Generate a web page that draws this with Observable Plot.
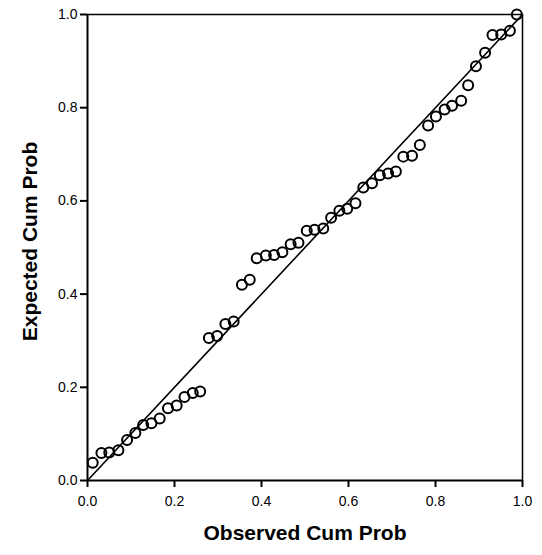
<!DOCTYPE html>
<html><head><meta charset="utf-8">
<script src="https://cdn.jsdelivr.net/npm/d3@7"></script>
<script src="https://cdn.jsdelivr.net/npm/@observablehq/plot@0.6"></script>
<style>
body{margin:0;background:#fff;}
svg{font-family:"Liberation Sans",Arial,sans-serif;}
</style>
</head><body>
<div id="chart"></div>
<script>
const observed = [0.012,0.032,0.050,0.071,0.091,0.110,0.128,0.147,0.166,0.185,0.205,0.223,0.242,0.259,0.279,0.298,0.317,0.336,0.355,0.373,0.389,0.410,0.429,0.448,0.467,0.485,0.504,0.522,0.542,0.560,0.579,0.597,0.616,0.634,0.654,0.672,0.691,0.709,0.726,0.746,0.764,0.783,0.801,0.821,0.838,0.859,0.875,0.893,0.914,0.931,0.951,0.971,0.987];
const expected = [0.038,0.059,0.060,0.065,0.087,0.102,0.119,0.123,0.133,0.155,0.161,0.179,0.188,0.191,0.306,0.310,0.336,0.341,0.420,0.431,0.477,0.483,0.484,0.490,0.507,0.510,0.536,0.538,0.541,0.564,0.579,0.583,0.595,0.629,0.638,0.655,0.659,0.663,0.695,0.697,0.720,0.762,0.781,0.796,0.804,0.815,0.848,0.889,0.918,0.956,0.957,0.965,1.000];
const ticks = [0, 0.2, 0.4, 0.6, 0.8, 1.0];
const refLine = [[0,0],[1,1]];

const points = observed.map((o,i)=>({o, e: expected[i]}));

const chart = Plot.plot({
  width: 542, height: 555,
  marginLeft: 87, marginRight: 20, marginTop: 14, marginBottom: 75,
  style: {fontFamily: '"Liberation Sans", Arial, sans-serif', fontSize: "14px", color: "#000", background: "#fff"},
  x: {domain: [0,1], ticks: ticks, tickFormat: d3.format(".1f"), label: null},
  y: {domain: [0,1], ticks: ticks, tickFormat: d3.format(".1f"), label: null},
  marks: [
    Plot.line(refLine, {x: d=>d[0], y: d=>d[1], stroke: "#000", strokeWidth: 1.6}),
    Plot.dot(points, {x: "o", y: "e", r: 5, stroke: "#000", strokeWidth: 2, fill: "none"}),
    Plot.axisX({ticks: ticks, tickFormat: d3.format(".1f"), tickSize: 7, tickPadding: 9, strokeWidth: 2, fontSize: 14, label: null}),
    Plot.axisY({ticks: ticks, tickFormat: d3.format(".1f"), tickSize: 7, tickPadding: 3, strokeWidth: 2, fontSize: 14, label: null}),
    Plot.ruleX([0], {stroke: "#000", strokeWidth: 2}),
    Plot.ruleY([0], {stroke: "#000", strokeWidth: 2}),
    Plot.ruleX([1], {stroke: "#000", strokeWidth: 1.5}),
    Plot.ruleY([1], {stroke: "#000", strokeWidth: 1.5}),
    Plot.text(["Observed Cum Prob"], {frameAnchor: "bottom", dy: 59, fontSize: 21, fontWeight: "bold"}),
    Plot.text(["Expected Cum Prob"], {frameAnchor: "left", textAnchor: "middle", dx: -57, dy: -6, rotate: -90, fontSize: 21, fontWeight: "bold"})
  ]
});
document.getElementById("chart").appendChild(chart);
</script>
</body></html>
